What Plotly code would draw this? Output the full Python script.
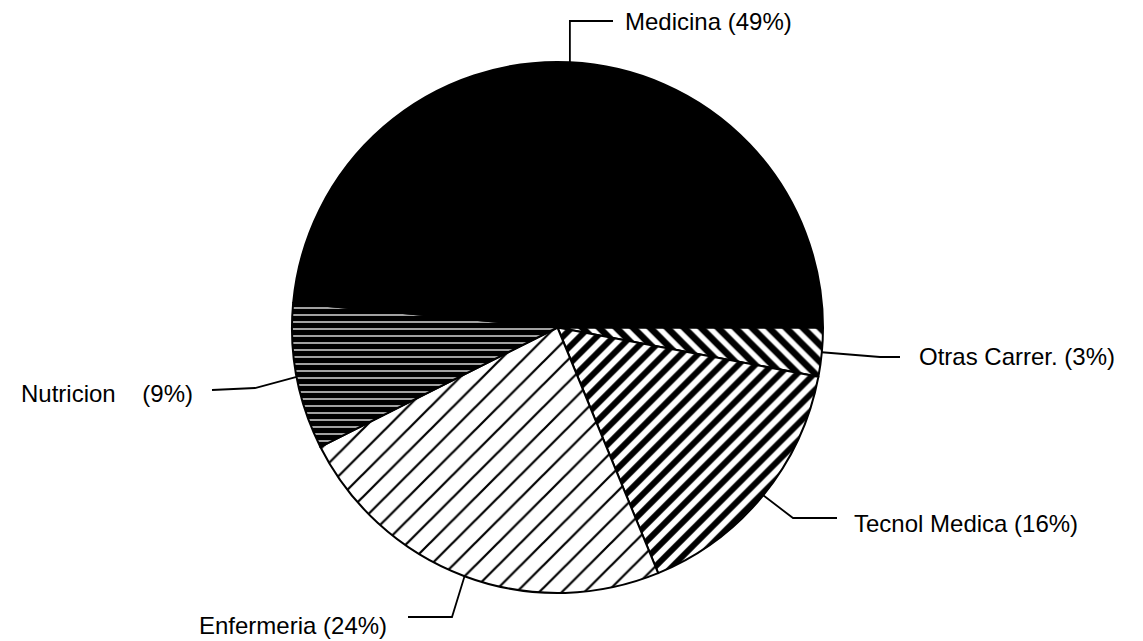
import math
import plotly.graph_objects as go

# ---- data ----
categories = ["Otras Carrer.", "Tecnol. Medica", "Enfermeria", "Nutricion", "Medicina"]
display_names = ["Otras Carrer.", "Tecnol Medica", "Enfermeria", "Nutricion\u00a0\u00a0\u00a0", "Medicina"]
percentages = [3, 16, 24, 9, 49]

# ---- styling ----
W, H = 1143, 641
CX, CY, R = 557.5, 327.5, 265.5  # pie centre/radius in pixels

pattern_shapes = ["\\", "/", "/", "-", ""]
pattern_fg = ["black", "black", "black", "black", "black"]
pattern_bg = ["white", "white", "white", "white", "black"]
pattern_size = [12, 12, 16, 7, 8]
pattern_solidity = [0.55, 0.5, 0.14, 0.82, 1.0]
slice_colors = ["white", "white", "white", "white", "black"]

# label layout: elbow points (pixels) after the edge point, text anchor, alignment
label_layout = [
    {"pts": [(880, 357), (900, 357)], "text": (917, 356), "anchor": "left"},
    {"pts": [(793, 518), (837, 518)], "text": (852, 523), "anchor": "left"},
    {"pts": [(452, 617), (408, 617)], "text": (389, 625), "anchor": "right"},
    {"pts": [(255, 388), (212, 390)], "text": (195, 393), "anchor": "right"},
    {"pts": [(None, 21), (613, 21)], "text": (623, 21), "anchor": "left"},
]

FONT = "Liberation Sans, Arial, sans-serif"


def px(x):
    return x / W


def py(y):
    return 1 - y / H


fig = go.Figure(
    go.Pie(
        labels=categories,
        values=percentages,
        sort=False,
        direction="clockwise",
        rotation=90,
        textinfo="none",
        hoverinfo="label+percent",
        showlegend=False,
        domain=dict(x=[px(CX - R), px(CX + R)], y=[py(CY + R), py(CY - R)]),
        marker=dict(
            colors=slice_colors,
            line=dict(color="black", width=2),
            pattern=dict(
                shape=pattern_shapes,
                fgcolor=pattern_fg,
                bgcolor=pattern_bg,
                size=pattern_size,
                solidity=pattern_solidity,
            ),
        ),
    )
)

# leader lines and labels computed from slice mid-angles
total = sum(percentages)
start = 0.0
shapes = []
annotations = []
for name, v, lay in zip(display_names, percentages, label_layout):
    span = v / total * 360.0
    mid = math.radians(start + span / 2)
    start += span
    ex = CX + R * math.cos(mid)
    ey = CY + R * math.sin(mid)
    pts = [(ex, ey)]
    for (x, y) in lay["pts"]:
        pts.append((ex if x is None else x, y))
    path = "M " + " L ".join(f"{px(x):.5f},{py(y):.5f}" for x, y in pts)
    shapes.append(dict(type="path", xref="paper", yref="paper", path=path,
                       line=dict(color="black", width=1.8)))
    tx, ty = lay["text"]
    annotations.append(dict(
        x=px(tx), y=py(ty), xref="paper", yref="paper",
        text=f"{name} ({v}%)", showarrow=False,
        xanchor=lay["anchor"], yanchor="middle",
        font=dict(family=FONT, size=24, color="black"),
    ))

fig.update_layout(
    width=W, height=H,
    margin=dict(l=0, r=0, t=0, b=0),
    paper_bgcolor="white", plot_bgcolor="white",
    shapes=shapes, annotations=annotations,
)

fig.write_html(
    "out.html",
    config={"displayModeBar": False},
    post_script="document.body.style.margin='0';document.body.style.overflow='hidden';",
)
